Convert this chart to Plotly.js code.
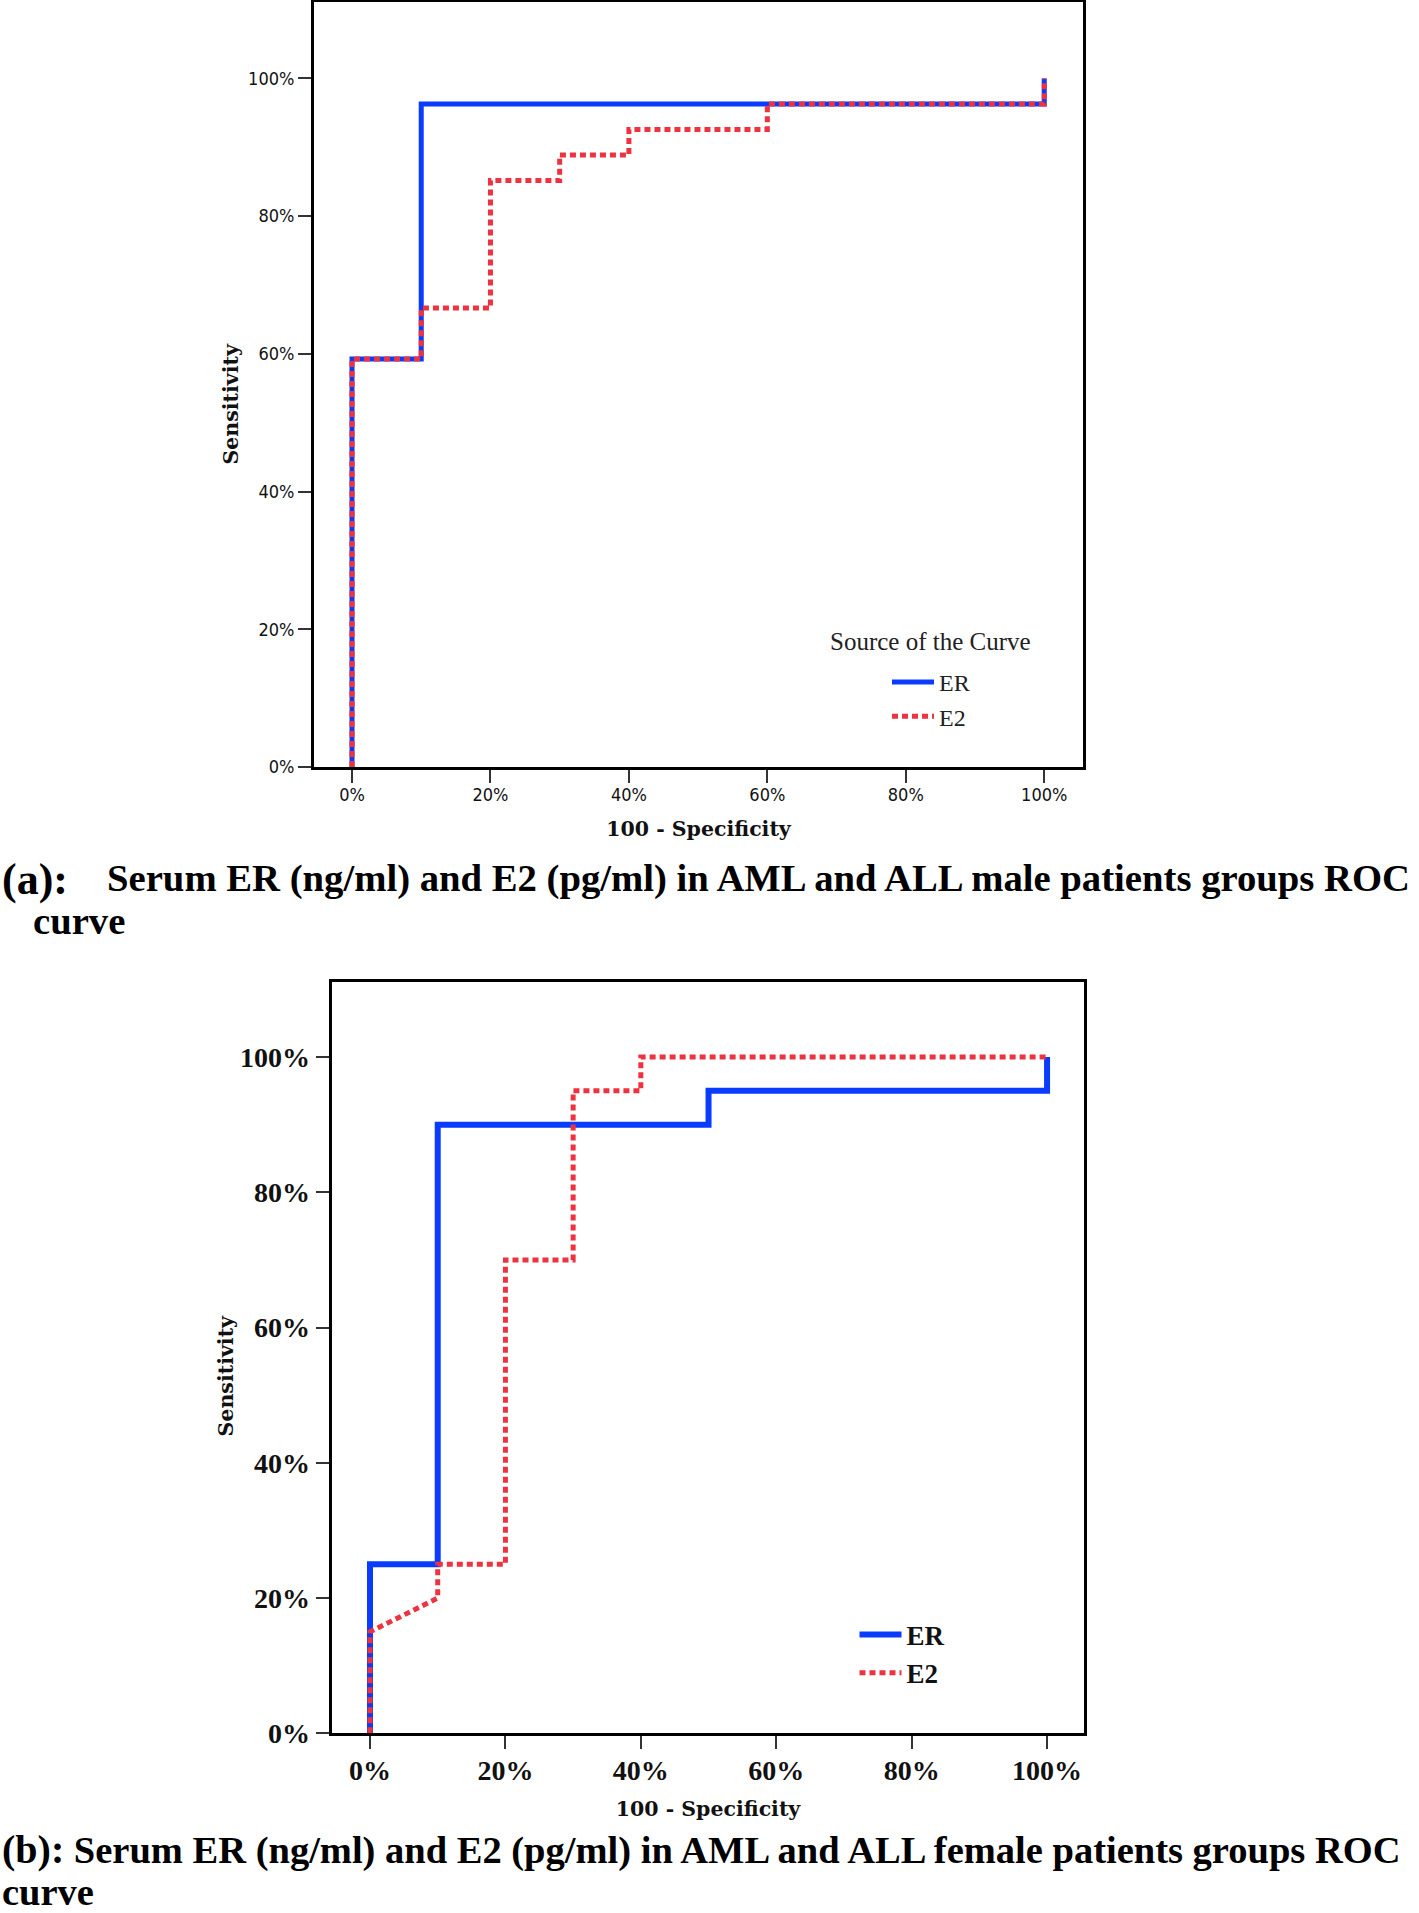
<!DOCTYPE html>
<html><head><meta charset="utf-8">
<script src="https://cdn.plot.ly/plotly-3.0.1.min.js"></script>
<style>html,body{margin:0;padding:0;background:#fff}#chart{width:1419px;height:1913px}</style>
</head><body><div id="chart"></div>
<script>
// (a) male patients: 100 - Specificity (%) vs Sensitivity (%)
const maleER_x = [0, 0, 10, 10, 100, 100];
const maleER_y = [0, 59.26, 59.26, 96.3, 96.3, 100];
const maleE2_x = [0, 0, 10, 10, 20, 20, 30, 30, 40, 40, 60, 60, 100, 100];
const maleE2_y = [0, 59.26, 59.26, 66.67, 66.67, 85.19, 85.19, 88.89, 88.89, 92.59, 92.59, 96.3, 96.3, 100];
// (b) female patients
const femaleER_x = [0, 0, 10, 10, 50, 50, 100, 100];
const femaleER_y = [0, 25, 25, 90, 90, 95, 95, 100];
const femaleE2_x = [0, 0, 10, 10, 20, 20, 30, 30, 40, 40, 100];
const femaleE2_y = [0, 15, 20, 25, 25, 70, 70, 95, 95, 100, 100];
const tickVals = [0, 20, 40, 60, 80, 100];
const tickText = ['0%', '20%', '40%', '60%', '80%', '100%'];
const seriesNames = ['ER', 'E2'];
const xTitle = '100 - Specificity';
const yTitle = 'Sensitivity';
const legendTitle = 'Source of the Curve';
const captionA = 'Serum ER (ng/ml) and E2 (pg/ml) in AML and ALL male patients groups ROC';
const captionB = 'Serum ER (ng/ml) and E2 (pg/ml) in AML and ALL female patients groups ROC';

const W = 1419, H = 1913;
const BLUE = '#0A3CFF', RED = '#EE3340';
const px = v => v / W;
const py = v => 1 - v / H;

const sansCond = 'DejaVu Sans Condensed, Liberation Sans Narrow, DejaVu Sans, sans-serif';
const serif = 'Liberation Serif, Times New Roman, serif';
const titleSerif = 'DejaVu Serif, Liberation Serif, serif';

const traces = [
  {x: maleER_x, y: maleER_y, name: seriesNames[0], type: 'scatter', mode: 'lines',
   line: {color: BLUE, width: 5}, xaxis: 'x', yaxis: 'y', legend: 'legend'},
  {x: maleE2_x, y: maleE2_y, name: seriesNames[1], type: 'scatter', mode: 'lines',
   line: {color: RED, width: 5, dash: '6px,4px'}, xaxis: 'x', yaxis: 'y', legend: 'legend'},
  {x: femaleER_x, y: femaleER_y, name: seriesNames[0], type: 'scatter', mode: 'lines',
   line: {color: BLUE, width: 6}, xaxis: 'x2', yaxis: 'y2', legend: 'legend2'},
  {x: femaleE2_x, y: femaleE2_y, name: seriesNames[1], type: 'scatter', mode: 'lines',
   line: {color: RED, width: 5, dash: '6px,4px'}, xaxis: 'x2', yaxis: 'y2', legend: 'legend2'}
];

function axisBase(font) {
  return {
    tickmode: 'array', tickvals: tickVals, ticktext: tickText,
    ticks: 'outside', ticklen: 13, tickwidth: 2, tickcolor: '#333',
    showline: true, linecolor: '#000', linewidth: 3, mirror: true,
    showgrid: false, zeroline: false, tickfont: font, fixedrange: true
  };
}
const fontA = {family: sansCond, size: 18, color: '#111'};
const fontB = {family: serif, size: 28, color: '#111', weight: 'bold'};
const axTitleFont = {family: titleSerif, size: 20.5, color: '#111', weight: 'bold'};

const layout = {
  width: W, height: H,
  margin: {l: 0, r: 0, t: 0, b: 0},
  paper_bgcolor: '#fff', plot_bgcolor: '#fff',
  showlegend: true,
  xaxis: Object.assign(axisBase(fontA), {
    domain: [px(314), px(1083)], range: [-5.49, 105.6], anchor: 'y',
    ticklabelstandoff: -4,
    title: {text: xTitle, font: axTitleFont, standoff: 19}
  }),
  yaxis: Object.assign(axisBase(fontA), {
    domain: [py(767), py(2)], range: [0, 111.1], anchor: 'x'
  }),
  xaxis2: Object.assign(axisBase(fontB), {
    domain: [px(331.7), px(1084.3)], range: [-5.66, 105.5], anchor: 'y2',
    ticklabelstandoff: -3,
    title: {text: xTitle, font: axTitleFont, standoff: 17}
  }),
  yaxis2: Object.assign(axisBase(fontB), {
    domain: [py(1733.3), py(982)], range: [0, 111.1], anchor: 'x2'
  }),
  legend: {
    x: px(887), y: py(660), xanchor: 'left', yanchor: 'top',
    bgcolor: 'rgba(0,0,0,0)', borderwidth: 0, itemwidth: 42,
    font: {family: serif, size: 24, color: '#222'}, traceorder: 'normal'
  },
  legend2: {
    x: px(854.5), y: py(1610.5), xanchor: 'left', yanchor: 'top',
    bgcolor: 'rgba(0,0,0,0)', borderwidth: 0, itemwidth: 42,
    font: {family: serif, size: 27, color: '#111', weight: 'bold'}, traceorder: 'normal'
  },
  annotations: [
    {text: yTitle, xref: 'paper', yref: 'paper', x: px(230.6), y: py(404),
     xanchor: 'center', yanchor: 'middle', textangle: -90, showarrow: false,
     font: axTitleFont},
    {text: yTitle, xref: 'paper', yref: 'paper', x: px(225.7), y: py(1375.7),
     xanchor: 'center', yanchor: 'middle', textangle: -90, showarrow: false,
     font: axTitleFont},
    {text: legendTitle, xref: 'paper', yref: 'paper', x: px(931), y: py(642),
     xanchor: 'center', yanchor: 'middle', showarrow: false,
     font: {family: serif, size: 25, color: '#222'}},
    {text: '(a):', xref: 'paper', yref: 'paper', x: 0, y: py(879),
     xanchor: 'left', yanchor: 'middle', showarrow: false,
     font: {family: serif, size: 44, color: '#000', weight: 'bold'}},
    {text: captionA, xref: 'paper', yref: 'paper', x: px(105), y: py(878.5),
     xanchor: 'left', yanchor: 'middle', showarrow: false,
     font: {family: serif, size: 38.7, color: '#000', weight: 'bold'}},
    {text: 'curve', xref: 'paper', yref: 'paper', x: px(31), y: py(921),
     xanchor: 'left', yanchor: 'middle', showarrow: false,
     font: {family: serif, size: 38.7, color: '#000', weight: 'bold'}},
    {text: '<span style="font-size:40px">(b):</span> ' + captionB, xref: 'paper', yref: 'paper',
     x: 0, y: py(1849), xanchor: 'left', yanchor: 'middle', showarrow: false,
     font: {family: serif, size: 38.5, color: '#000', weight: 'bold'}},
    {text: 'curve', xref: 'paper', yref: 'paper', x: 0, y: py(1892),
     xanchor: 'left', yanchor: 'middle', showarrow: false,
     font: {family: serif, size: 38.5, color: '#000', weight: 'bold'}}
  ]
};

Plotly.newPlot('chart', traces, layout, {displayModeBar: false, staticPlot: true});
</script>
</body></html>
